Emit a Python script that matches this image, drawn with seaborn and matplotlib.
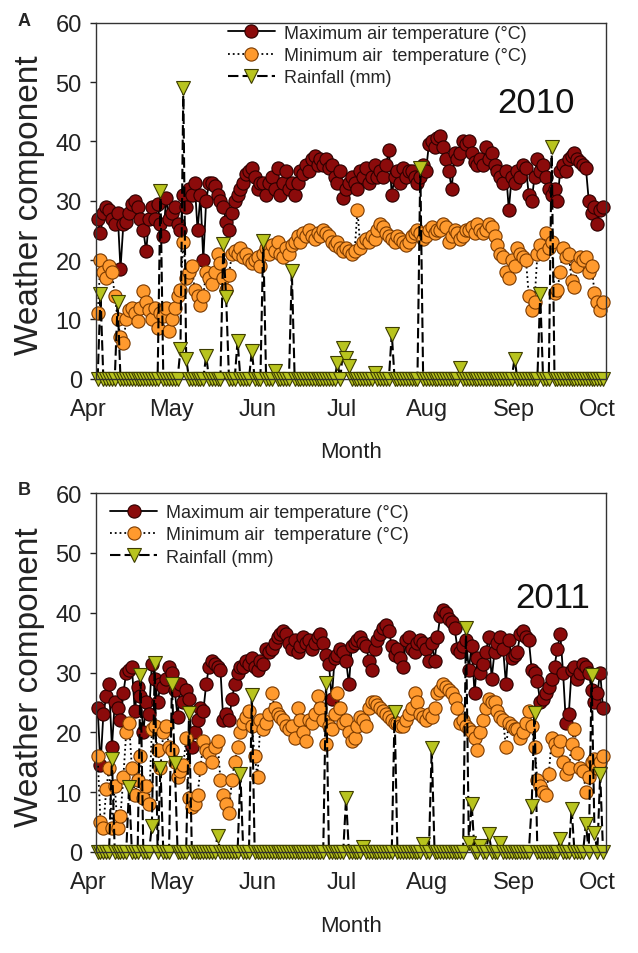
import numpy as np
import pandas as pd
import matplotlib
matplotlib.use("Agg")
import matplotlib.pyplot as plt
from matplotlib.transforms import ScaledTranslation
import seaborn as sns

# days counted from 1 April, month starts on the x axis
month_ticks = [0, 30, 61, 91, 122, 153, 183]
month_labels = ["Apr", "May", "Jun", "Jul", "Aug", "Sep", "Oct"]

tmax_2010 = [
    27, 24.5, 28, 29, 28.5, 27, 26, 28, 18.5, 26,
    26.5, 28, 29.5, 30, 29, 27, 25, 21.5, 27, 29,
    27, 29.5, 26, 24, 30.5, 27, 28, 29, 26, 25,
    31, 29, 32, 31, 33, 25, 31, 20, 30, 33,
    33, 32.5, 31, 30, 29, 26.5, 25, 28, 30, 31,
    32, 33, 34.5, 35, 35.5, 34, 32, 33, 33, 31,
    33, 34, 32, 35.5, 31, 33, 35, 32, 33, 31,
    33, 35, 34.5, 36, 35, 37, 37.5, 36, 37, 36,
    37, 35.5, 36, 34, 33, 35, 30.5, 32, 33, 34,
    33, 32, 35, 34, 35.5, 33, 34, 36, 34, 35,
    34, 36, 38.5, 31, 34, 35, 33, 35.5, 34, 35,
    35, 34, 33, 34, 36, 35, 39.5, 40, 39, 40.5,
    41, 39, 37, 35, 32, 38, 37, 38, 40, 39.5,
    40, 38, 36.5, 36, 37, 36, 39, 37, 38, 36,
    35, 34, 33, 35, 28.5, 34, 33, 35, 34, 36,
    35.5, 31, 30, 34, 37, 35, 36, 34, 32, 31,
    32, 30, 35, 36, 35, 37, 37.5, 38, 37, 36.5,
    36, 35.5, 30, 28, 29, 26, 28.5, 29,
]
tmin_2010 = [
    11, 20, 18, 17, 19, 18, 14, 10, 7, 6,
    10, 11.5, 12, 11, 9.8, 12, 14.8, 13, 11.5, 10,
    12, 8.5, 11, 10.5, 12, 8, 10, 12, 14, 15,
    23, 17, 18, 19, 15, 14, 12.5, 14, 18, 17,
    16, 18, 21, 19.5, 17, 15, 17.5, 21, 21.5, 21,
    22, 20.5, 21, 20, 19.5, 20, 20.5, 19, 21, 22,
    21, 22.5, 21.5, 23, 21, 20.5, 22, 21, 22.5, 23,
    24, 23, 24.5, 24, 25, 24, 23.5, 24.5, 24, 25,
    24.5, 24, 23, 22.5, 23, 22, 21.5, 22, 21.5, 21,
    21.5, 28.5, 22, 23, 23.5, 23, 24, 23.5, 25, 26,
    25.5, 24.5, 24, 23.5, 23, 24, 23.5, 23, 22.5, 23,
    24, 24.5, 25, 24.5, 23.5, 24, 25, 25.5, 24.5, 25,
    25, 26, 25.5, 23, 24, 25, 24.5, 23.5, 24, 25,
    25, 25.5, 24.5, 26, 25, 24.5, 25, 26, 25.5, 24,
    22.5, 21, 20.5, 18, 17, 20, 19, 22, 21, 20.5,
    20, 14, 11.5, 13, 21, 22.5, 21, 24.5, 22, 23,
    14.5, 15, 18, 22, 20.5, 21, 16.5, 15.5, 19, 20.5,
    20, 20.5, 18, 19, 14.5, 13, 11.5, 13,
]
rain_days_2010 = [1, 7, 22, 29, 30, 31, 38, 44, 45, 49, 54, 58, 62, 68,
                  84, 86, 87, 88, 97, 103, 113, 127, 146, 155, 159]
rain_mm_2010 = [14.3, 13, 31.7, 5, 49, 3.4, 3.9, 22.7, 13.7, 6.4, 4.7, 23.3, 1.3, 18.2,
                2.7, 5.2, 3.5, 2.2, 1, 7.6, 35.6, 1.8, 3.4, 14.3, 39]

tmax_2011 = [
    24, 14.5, 23, 26, 28, 17.5, 25, 24, 22, 26.5,
    30, 30.5, 31, 23.5, 27.5, 26, 20, 25, 23, 31.5,
    29, 25, 28, 27.5, 29, 31, 30, 27, 22.5, 28,
    25, 27, 25.5, 17.5, 20, 22, 24, 23.5, 28, 31,
    32, 31.5, 31, 30.5, 22, 23, 22, 25.5, 28, 30,
    31, 31, 32, 31.5, 32.5, 31, 30.5, 32, 31.5, 34,
    33.5, 34, 35, 36, 36.5, 37, 36.5, 35, 34, 35.5,
    33.5, 34.5, 36, 35, 35.5, 34, 35, 36, 36.5, 35,
    33, 31.5, 25.5, 32.5, 33, 34, 33.5, 32, 28, 34.5,
    35, 35.5, 36, 35, 34.5, 32, 30.5, 34, 35.5, 36.5,
    37.5, 38, 37, 34.5, 33, 34, 32.5, 31, 35.5, 36,
    34, 33.5, 35, 35.5, 35, 34, 32, 35, 32, 36,
    39.5, 40.5, 40, 39, 38.5, 37.5, 34, 33.5, 34.5, 35.5,
    30.5, 34.5, 26.5, 32.5, 30, 31.5, 33.5, 36, 29, 33.5,
    35, 36, 34, 28, 35.5, 32.5, 33, 33.5, 36.5, 37,
    36, 35.5, 30.5, 30, 28.5, 25, 25.5, 26.5, 27.5, 29,
    31, 34, 36.5, 30, 21.5, 23, 30.5, 31, 29, 30,
    31.5, 31, 30, 27, 25, 26.5, 30, 24,
]
tmin_2011 = [
    16, 5, 4, 10.5, 14, 4, 11, 4, 6, 12.5,
    20, 21.5, 14, 9.5, 12, 16, 9, 11, 8, 20.5,
    21, 17, 14, 20, 21, 17.5, 17, 15, 12.5, 13.5,
    14.5, 19, 9, 7.5, 8, 9.5, 14, 18.5, 17, 16.5,
    15, 17.5, 18.5, 12, 9.5, 8, 6.5, 12, 15, 17.5,
    20, 21.5, 22.5, 23.5, 21, 16, 12.5, 22, 20.5, 21.5,
    23, 26.5, 24, 23, 22.5, 22, 21, 20.5, 21, 19,
    24, 22, 20, 18.5, 22, 21.5, 23, 26, 24, 22,
    18, 21, 20.5, 23, 26.5, 24, 21.5, 22, 20, 18.5,
    19, 21, 22.5, 22, 21, 24, 25, 25, 24.5, 24,
    23.5, 23, 22.5, 22, 21.5, 21.5, 21, 21, 22, 23,
    24, 26.5, 25, 23, 22.5, 22, 23, 22.5, 24, 26.5,
    27, 28, 27.5, 27, 26.5, 25.5, 24, 21.5, 22, 21,
    20.5, 20, 19, 17, 20, 22, 24, 25.5, 25, 25,
    23.5, 22.5, 22, 17.5, 21.5, 21, 20.5, 20.5, 19, 20,
    21.5, 23.5, 21, 17.5, 12, 11, 10, 9.5, 13, 19,
    18, 17, 18.5, 15, 13, 14, 18, 20.5, 16.5, 14,
    13.5, 10, 12.5, 15, 15.5, 14, 15, 16,
]
rain_days_2011 = [5, 11, 15, 19, 20, 22, 26, 27, 32, 42, 50, 54, 80, 87, 93,
                  104, 114, 117, 129, 130, 131, 134, 137, 141, 152, 153,
                  162, 166, 171, 173, 174, 176]
rain_mm_2011 = [15.6, 10.8, 29.6, 4.4, 31.6, 14.1, 28, 14.8, 23.2, 2.7, 13.1, 26.2, 28.2, 9, 0.8,
                23.4, 1.3, 17.3, 37.5, 1.5, 8, 1, 3, 1.5, 7.7, 23.2,
                2.2, 7.2, 4.7, 29.6, 3.2, 13.1]


def daily_frame(tmax, tmin, rain_days, rain_mm):
    n = len(tmax)
    rain = np.zeros(n)
    rain[rain_days] = rain_mm
    # readings spread over 1 April .. 30 September
    day = np.linspace(0, 182, n)
    return pd.DataFrame({"day": day, "tmax": tmax, "tmin": tmin, "rain": rain})


sns.set_style("ticks")
plt.rcParams["font.family"] = ["Liberation Sans", "DejaVu Sans"]
plt.rcParams["axes.edgecolor"] = "#333333"
plt.rcParams["axes.linewidth"] = 1.0


def draw_panel(fig, ax, df, year, year_x, year_y, leg_x, leg_y):
    sns.lineplot(data=df, x="day", y="tmax", ax=ax, estimator=None, color="black",
                 linewidth=1.3, marker="o", markersize=9.5, markerfacecolor="#8b0b0b",
                 markeredgecolor="#2b0000", markeredgewidth=0.8, clip_on=False,
                 label="Maximum air temperature (°C)")
    sns.lineplot(data=df, x="day", y="tmin", ax=ax, estimator=None, color="black",
                 linewidth=1.3, linestyle=":", marker="o", markersize=9.5,
                 markerfacecolor="#ff9a2e", markeredgecolor="#7a3a00", markeredgewidth=0.8,
                 clip_on=False, label="Minimum air  temperature (°C)")
    sns.lineplot(data=df, x="day", y="rain", ax=ax, estimator=None, color="black",
                 linewidth=1.5, linestyle=(0, (5, 2)), marker="v", markersize=9.5,
                 markerfacecolor="#b8c41e", markeredgecolor="#3d3d00", markeredgewidth=0.8,
                 clip_on=False, label="Rainfall (mm)")

    ax.set_xlim(-0.7, 183.1)
    ax.set_ylim(0, 60)
    ax.set_xticks(month_ticks)
    ax.set_xticklabels(month_labels)
    ax.set_yticks(range(0, 61, 10))
    ax.tick_params(axis="y", labelsize=17, length=4, width=1, pad=6, colors="#222222")
    ax.tick_params(axis="x", labelsize=17, length=0, pad=14, colors="#222222")
    shift = ScaledTranslation(-9 / 100, 0, fig.dpi_scale_trans)
    for lab in ax.get_xticklabels():
        lab.set_transform(lab.get_transform() + shift)
    for s in ax.spines.values():
        s.set_visible(True)
    ax.set_xlabel("Month", fontsize=16, color="#222222")
    ax.xaxis.set_label_coords(0.5, -0.175)
    ax.xaxis.label.set_va("top")
    ax.set_ylabel("Weather component", fontsize=24, color="#222222")
    ax.yaxis.set_label_coords(-0.10, 0.49)

    ax.text(year_x, year_y, year, fontsize=25, ha="center", va="center", color="#111111")
    ax.legend(loc="upper left", bbox_to_anchor=(leg_x, leg_y), frameon=False, fontsize=13,
              handlelength=2.6, handletextpad=0.5, labelspacing=0.3,
              borderaxespad=0, borderpad=0.1)


fig = plt.figure(figsize=(6.38, 9.54), dpi=100)
ax_a = fig.add_axes([0.150, 0.602, 0.800, 0.373])
ax_b = fig.add_axes([0.150, 0.106, 0.800, 0.376])

draw_panel(fig, ax_a, daily_frame(tmax_2010, tmin_2010, rain_days_2010, rain_mm_2010),
           "2010", 158, 46.5, 0.255, 1.0)
draw_panel(fig, ax_b, daily_frame(tmax_2011, tmin_2011, rain_days_2011, rain_mm_2011),
           "2011", 164, 42.5, 0.025, 0.975)

fig.text(0.028, 0.977, "A", fontsize=13, fontweight="bold", va="center")
fig.text(0.028, 0.486, "B", fontsize=13, fontweight="bold", va="center")

fig.savefig("out.png", dpi=100)
